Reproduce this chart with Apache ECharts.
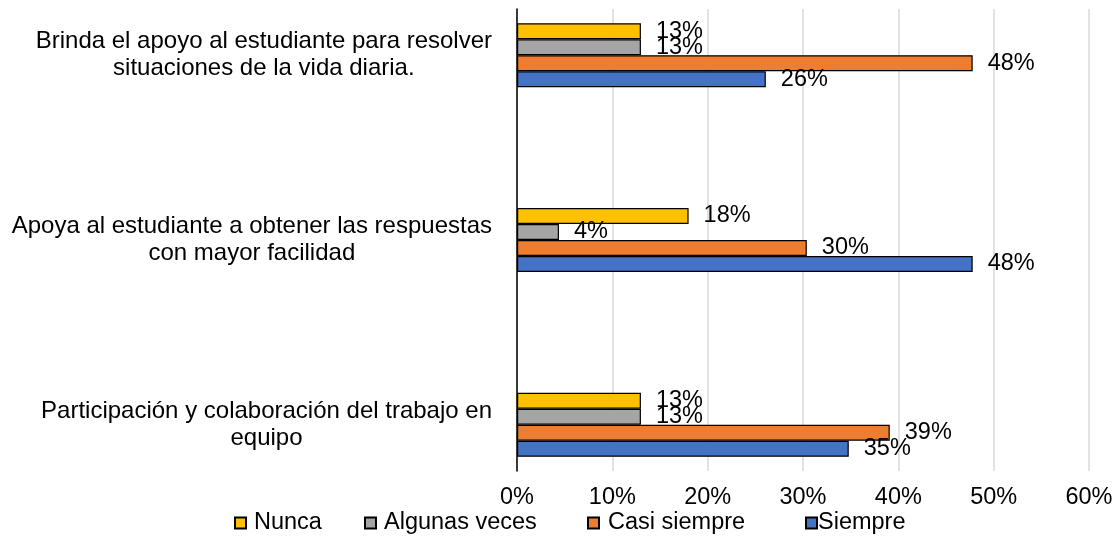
<!DOCTYPE html>
<html>
<head>
<meta charset="utf-8">
<script src="https://cdn.jsdelivr.net/npm/echarts@6/dist/echarts.min.js"></script>
<style>
  html, body { margin: 0; padding: 0; background: #fff; }
  #chart { width: 1120px; height: 536px; }
</style>
</head>
<body>
<div id="chart"></div>
<script>
// categories listed top to bottom
const categories = [
  'Brinda el apoyo al estudiante para resolver\nsituaciones de la vida diaria.',
  'Apoya al estudiante a obtener las respuestas\ncon mayor facilidad',
  'Participación y colaboración del trabajo en\nequipo'
]
const seriesNames = ['Nunca', 'Algunas veces', 'Casi siempre', 'Siempre']
// percentages per category
const nunca = [13.0, 18.0, 13.0]
const algunasVeces = [13.0, 4.4, 13.0]
const casiSiempre = [47.8, 30.4, 39.1]
const siempre = [26.1, 47.8, 34.8]
const xTicks = [0, 10, 20, 30, 40, 50, 60]

const colors = ['#FFC000', '#A5A5A5', '#ED7D31', '#4472C4']
const FONT = '"Liberation Sans", Arial, sans-serif'
const FS = 23.5

// legend entries are spread unevenly in the original, so one legend per series
const legendLeft = [234, 364, 587, 805]
const legendTextPad = [3, 3, 4, -4]

// the source sheet has an empty row between each category
const withGaps = (arr, blank) => arr.flatMap((v, i) => (i === 0 ? [v] : [blank, v]))

const chart = echarts.init(document.getElementById('chart'))

const seriesValues = [nunca, algunasVeces, casiSiempre, siempre]

const option = {
  animation: false,
  backgroundColor: '#fff',
  textStyle: { fontFamily: FONT },
  grid: {
    left: 517,
    right: 31,
    top: 9,
    bottom: 65
  },
  legend: seriesNames.map((name, i) => ({
    data: [name],
    left: legendLeft[i],
    top: 511,
    padding: 0,
    icon: 'rect',
    itemWidth: 11,
    itemHeight: 11,
    textStyle: {
      fontFamily: FONT,
      fontSize: FS,
      color: '#000',
      padding: [0, 0, 0, legendTextPad[i]]
    }
  })),
  xAxis: {
    type: 'value',
    min: xTicks[0],
    max: xTicks[xTicks.length - 1],
    interval: xTicks[1] - xTicks[0],
    axisLine: { show: false },
    axisTick: { show: false },
    axisLabel: {
      formatter: '{value}%',
      fontFamily: FONT,
      fontSize: FS,
      color: '#000',
      margin: 15
    },
    splitLine: {
      lineStyle: { color: '#D9D9D9', width: 1.5 }
    }
  },
  yAxis: {
    type: 'category',
    inverse: true,
    data: withGaps(categories, ''),
    axisTick: { show: false },
    axisLine: {
      lineStyle: { color: '#000', width: 1.5 }
    },
    axisLabel: {
      interval: 0,
      margin: 25,
      align: 'right',
      formatter: (v) => v ? v.split('\n').map(l => '{c|' + l + '}').join('\n') : '',
      rich: {
        c: {
          align: 'center',
          fontFamily: FONT,
          fontSize: 24,
          lineHeight: 27,
          color: '#000'
        }
      }
    }
  },
  series: seriesNames.map((name, i) => ({
    name: name,
    type: 'bar',
    data: withGaps(seriesValues[i], null),
    barWidth: 16,
    barGap: '0%',
    itemStyle: {
      color: colors[i],
      borderColor: '#000',
      borderWidth: 1.2
    },
    label: {
      show: true,
      position: 'right',
      distance: 15,
      fontFamily: FONT,
      fontSize: FS,
      color: '#000',
      formatter: (p) => Math.round(p.value) + '%'
    }
  }))
}

chart.setOption(option)
</script>
</body>
</html>
